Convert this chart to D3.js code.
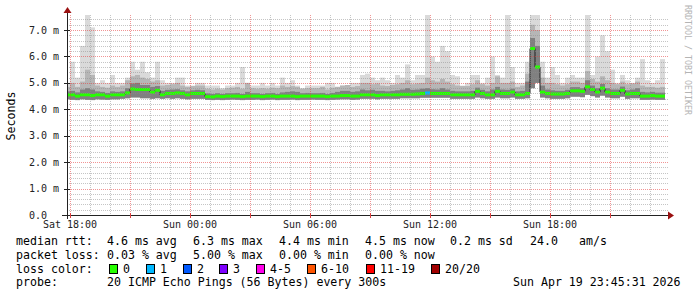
<!DOCTYPE html>
<html>
<head>
<meta charset="utf-8">
<script src="https://cdn.jsdelivr.net/npm/d3@7"></script>
<style>
  body { margin: 0; background: #fff; }
  svg text { font-family: "DejaVu Sans Mono", monospace; }
</style>
</head>
<body>
<svg id="chart" width="697" height="297"></svg>
<script>
// 15 minute bins, first one starts Sat 17:45
var binStart = new Date(2026, 3, 18, 17, 45);
var binMinutes = 15;

// median rtt per bin (ms)
var median = [
  4.55,4.55,4.50,4.55,4.55,4.52,4.55,4.55,4.50,4.55,
  4.55,4.55,4.62,4.77,4.75,4.75,4.75,4.65,4.72,4.55,
  4.60,4.60,4.62,4.60,4.55,4.60,4.60,4.60,4.48,4.47,
  4.50,4.48,4.50,4.50,4.50,4.48,4.50,4.50,4.50,4.48,
  4.50,4.50,4.48,4.50,4.50,4.50,4.48,4.50,4.50,4.50,
  4.50,4.50,4.48,4.50,4.50,4.52,4.52,4.50,4.50,4.55,
  4.55,4.55,4.52,4.55,4.55,4.55,4.55,4.57,4.57,4.57,
  4.58,4.60,4.62,4.60,4.60,4.60,4.60,4.55,4.55,4.55,
  4.55,4.55,4.68,4.60,4.55,4.55,4.68,4.60,4.60,4.65,
  4.55,4.55,4.60,6.30,5.60,4.65,4.60,4.58,4.58,4.58,
  4.60,4.70,4.70,4.68,4.85,4.75,4.65,4.80,4.65,4.60,
  4.60,4.72,4.58,4.60,4.60,4.50,4.50,4.52,4.50,4.50
];
// smoke: fastest ping
var smokeLow = [
  4.38,4.36,4.35,4.38,4.36,4.35,4.38,4.37,4.36,4.38,
  4.38,4.40,4.42,4.45,4.45,4.42,4.42,4.40,4.42,4.40,
  4.42,4.40,4.42,4.40,4.38,4.40,4.40,4.40,4.36,4.35,
  4.36,4.35,4.36,4.37,4.36,4.35,4.36,4.36,4.37,4.35,
  4.36,4.37,4.35,4.36,4.36,4.37,4.35,4.36,4.36,4.37,
  4.36,4.36,4.35,4.36,4.37,4.38,4.38,4.36,4.37,4.40,
  4.40,4.40,4.38,4.40,4.40,4.40,4.40,4.42,4.42,4.42,
  4.42,4.44,4.44,4.44,4.44,4.44,4.44,4.40,4.40,4.40,
  4.40,4.40,4.45,4.42,4.40,4.40,4.45,4.42,4.42,4.45,
  4.40,4.40,4.42,4.80,5.00,4.45,4.42,4.40,4.40,4.40,
  4.42,4.48,4.48,4.46,4.55,4.50,4.45,4.52,4.45,4.42,
  4.42,4.48,4.40,4.42,4.42,4.36,4.36,4.37,4.36,4.36
];
// smoke: dark band top
var smokeP75 = [
  4.68,4.70,4.64,4.75,4.80,4.75,4.68,4.66,4.62,4.68,
  4.66,4.68,4.80,4.98,5.00,4.92,4.92,4.85,4.88,4.70,
  4.74,4.75,4.76,4.72,4.68,4.72,4.74,4.72,4.60,4.58,
  4.61,4.58,4.61,4.61,4.62,4.58,4.66,4.61,4.61,4.58,
  4.61,4.62,4.58,4.64,4.66,4.68,4.66,4.61,4.62,4.61,
  4.61,4.62,4.58,4.62,4.66,4.70,4.70,4.66,4.68,4.75,
  4.72,4.74,4.70,4.70,4.68,4.70,4.72,4.75,4.80,4.74,
  4.75,4.78,4.80,4.76,4.75,4.80,4.75,4.70,4.68,4.68,
  4.68,4.70,4.82,4.74,4.68,4.75,4.85,4.75,4.74,4.78,
  4.68,4.70,5.05,6.70,6.40,4.90,4.75,4.72,4.70,4.70,
  4.74,4.84,4.84,4.80,5.10,4.90,4.80,4.96,4.80,4.75,
  4.75,4.86,4.72,4.75,4.80,4.66,4.64,4.66,4.63,4.63
];
// smoke: medium band top
var smokeP90 = [
  4.85,5.00,4.85,5.05,5.50,5.30,4.90,4.85,4.82,4.90,
  4.85,4.90,5.10,5.25,5.30,5.20,5.15,5.05,5.10,4.90,
  4.92,4.95,5.00,4.90,4.85,4.88,4.90,4.90,4.78,4.75,
  4.78,4.75,4.80,4.82,4.85,4.78,5.00,4.80,4.78,4.80,
  4.78,4.82,4.80,4.90,4.85,4.88,4.85,4.78,4.80,4.80,
  4.80,4.85,4.75,4.82,4.85,4.90,4.92,4.85,4.88,5.00,
  5.00,4.95,4.98,4.90,4.88,4.92,4.95,5.00,5.10,4.95,
  4.98,5.00,5.20,5.10,5.05,5.15,5.05,4.95,4.90,4.88,
  4.88,4.95,5.10,4.95,4.90,5.00,5.25,5.00,5.00,5.05,
  4.85,4.90,5.35,7.20,7.00,5.20,5.00,5.00,4.95,4.90,
  4.95,5.05,5.05,5.00,5.45,5.15,5.05,5.25,5.10,5.00,
  4.95,5.05,4.95,4.98,5.05,4.90,4.85,4.85,4.82,4.85
];
// smoke: slowest ping
var smokeHigh = [
  5.00,5.80,5.20,6.40,7.60,7.10,5.00,5.10,5.00,5.30,
  5.00,5.00,5.20,5.80,5.50,5.80,5.40,5.20,5.80,5.10,
  5.00,5.00,5.20,5.20,4.90,4.90,5.00,5.00,4.90,4.90,
  4.90,4.80,4.90,4.90,5.00,5.60,5.00,4.90,4.90,5.00,
  4.90,5.00,4.90,5.20,5.00,5.10,4.90,4.80,4.90,4.90,
  4.90,4.90,5.00,5.00,4.85,4.90,4.90,5.00,5.00,5.30,
  5.35,5.20,5.10,5.20,5.10,5.00,5.30,5.20,5.70,5.10,
  5.30,5.30,7.60,6.00,5.80,6.40,6.20,5.30,5.25,4.90,
  5.00,5.30,5.30,5.00,5.20,6.00,5.30,5.20,7.60,5.60,
  5.00,5.00,5.80,7.60,7.60,5.80,5.20,5.60,5.30,5.00,
  5.20,5.30,5.20,5.20,7.60,5.30,6.00,6.80,6.20,5.50,
  5.00,5.30,5.10,5.00,5.20,5.90,5.10,5.00,5.10,5.90
];
// bins where pings were lost: [bin, lost]
var lossEvents = [[72, 1]];

var yTicks = [0, 1, 2, 3, 4, 5, 6, 7];
var lossLabels = ["0", "1", "2", "3", "4-5", "6-10", "11-19", "20/20"];
var lossColors = ["#26ff00", "#00b8ff", "#0059ff", "#7e00ff", "#ff00ea", "#ff5500", "#ff0000", "#a10000"];
var lossUpper = [0, 1, 2, 3, 5, 10, 19, 20];

var svg = d3.select("#chart");
var plotL = 67, plotR = 667, plotT = 15, plotB = 215;

var x = d3.scaleTime()
  .domain([new Date(2026, 3, 18, 17, 51), new Date(2026, 3, 19, 23, 51)])
  .range([plotL, plotR]);
var y = d3.scaleLinear().domain([0, 7.57]).range([plotB, plotT]);

var bins = median.map(function(m, i) {
  var t0 = d3.timeMinute.offset(binStart, i * binMinutes);
  return {t0: t0, t1: d3.timeMinute.offset(t0, binMinutes), med: m,
    lo: smokeLow[i], p75: smokeP75[i], p90: smokeP90[i], hi: smokeHigh[i], lost: 0};
});
lossEvents.forEach(function(e) { bins[e[0]].lost = e[1]; });

svg.append("clipPath").attr("id", "plot")
  .append("rect").attr("x", plotL).attr("y", plotT)
  .attr("width", plotR - plotL).attr("height", plotB - plotT);

var g = svg.append("g").attr("clip-path", "url(#plot)");

// smoke, outer to inner
[["hi", "#dadada"], ["p90", "#b6b6b6"], ["p75", "#808080"]].forEach(function(s) {
  g.append("g").selectAll("rect").data(bins).enter().append("rect")
    .attr("x", function(d) { return x(d.t0); })
    .attr("width", function(d) { return x(d.t1) - x(d.t0); })
    .attr("y", function(d) { return y(d[s[0]]); })
    .attr("height", function(d) { return y(d.lo) - y(d[s[0]]); })
    .attr("fill", s[1]);
});

// grid
var grid = svg.append("g");
var minorY = d3.range(1, 38).map(function(k) { return k / 5; }).filter(function(v) { return Math.abs(v - Math.round(v)) > 0.01; });
grid.selectAll(".hm").data(minorY).enter().append("line")
  .attr("x1", plotL).attr("x2", plotR + 1)
  .attr("y1", function(d) { return Math.round(y(d)) + 0.5; })
  .attr("y2", function(d) { return Math.round(y(d)) + 0.5; })
  .attr("stroke", "rgba(140,140,140,0.5)").attr("stroke-dasharray", "1,1");
var hours = x.ticks(d3.timeHour.every(1)).filter(function(d) { return d.getHours() % 3; });
grid.selectAll(".vm").data(hours).enter().append("line")
  .attr("y1", plotT).attr("y2", plotB)
  .attr("x1", function(d) { return Math.round(x(d)) + 0.5; })
  .attr("x2", function(d) { return Math.round(x(d)) + 0.5; })
  .attr("stroke", "rgba(140,140,140,0.5)").attr("stroke-dasharray", "1,1");
grid.selectAll(".hM").data(yTicks.slice(1)).enter().append("line")
  .attr("x1", plotL).attr("x2", plotR + 1)
  .attr("y1", function(d) { return Math.round(y(d)) + 0.5; })
  .attr("y2", function(d) { return Math.round(y(d)) + 0.5; })
  .attr("stroke", "rgba(230,60,60,0.55)").attr("stroke-dasharray", "1,1");
var majors = x.ticks(d3.timeHour.every(3));
grid.selectAll(".vM").data(majors).enter().append("line")
  .attr("y1", plotT).attr("y2", plotB)
  .attr("x1", function(d) { return Math.round(x(d)) + 0.5; })
  .attr("x2", function(d) { return Math.round(x(d)) + 0.5; })
  .attr("stroke", "rgba(230,60,60,0.55)").attr("stroke-dasharray", "1,1");

// median: dark step line, then loss coloured bars
var stepPts = bins.map(function(d) { return [d.t0, d.med]; });
stepPts.push([bins[bins.length - 1].t1, bins[bins.length - 1].med]);
g.append("path").datum(stepPts)
  .attr("d", d3.line().curve(d3.curveStepAfter)
    .x(function(d) { return x(d[0]); }).y(function(d) { return y(d[1]); }))
  .attr("fill", "none").attr("stroke", "#202020").attr("stroke-width", 1);

function lossColor(n) {
  for (var k = 0; k < lossUpper.length; k++) if (n <= lossUpper[k]) return lossColors[k];
  return lossColors[lossColors.length - 1];
}
g.append("g").selectAll("rect").data(bins).enter().append("rect")
  .attr("x", function(d) { return x(d.t0); })
  .attr("width", function(d) { return x(d.t1) - x(d.t0); })
  .attr("y", function(d) { return y(d.med) - 1.5; })
  .attr("height", 3)
  .attr("fill", function(d) { return lossColor(d.lost); });

// axes
var axisCol = "#222";
svg.append("line").attr("x1", plotL - 5).attr("x2", plotR + 2)
  .attr("y1", plotB + 0.5).attr("y2", plotB + 0.5).attr("stroke", axisCol);
svg.append("line").attr("x1", plotL + 0.5).attr("x2", plotL + 0.5)
  .attr("y1", plotT - 3).attr("y2", plotB + 4).attr("stroke", axisCol);
svg.append("path").attr("d", "M668,211.5L674,215.5L668,219.5Z").attr("fill", "#9a1010");
svg.append("path").attr("d", "M63.5,13L67.5,7L71.5,13Z").attr("fill", "#9a1010");

svg.selectAll(".yt").data(yTicks).enter().append("line")
  .attr("x1", plotL - 3).attr("x2", plotL + 3)
  .attr("y1", function(d) { return Math.round(y(d)) + 0.5; })
  .attr("y2", function(d) { return Math.round(y(d)) + 0.5; })
  .attr("stroke", axisCol);
svg.selectAll(".xt").data(majors).enter().append("line")
  .attr("y1", plotB - 2).attr("y2", plotB + 3)
  .attr("x1", function(d) { return Math.round(x(d)) + 0.5; })
  .attr("x2", function(d) { return Math.round(x(d)) + 0.5; })
  .attr("stroke", "#e04040");

svg.selectAll(".yl").data(yTicks).enter().append("text")
  .attr("x", 29).attr("y", function(d) { return y(d) + 3.5; })
  .attr("font-size", 10).attr("fill", "#222")
  .text(function(d) { return d3.format(".1f")(d) + (d ? " m" : ""); });

var labelTimes = x.ticks(d3.timeHour.every(6));
svg.selectAll(".xl").data(labelTimes).enter().append("text")
  .attr("x", function(d) { return x(d); }).attr("y", 228)
  .attr("text-anchor", "middle").attr("font-size", 10).attr("fill", "#222")
  .text(d3.timeFormat("%a %H:%M"));

svg.append("text").attr("transform", "translate(15,116) rotate(-90)")
  .attr("text-anchor", "middle").attr("font-size", 11.6).text("Seconds");

svg.append("text").attr("transform", "translate(685,5) rotate(90)")
  .attr("font-size", 8.3).attr("fill", "#b4b4b4").text("RRDTOOL / TOBI OETIKER");

// legend
var fs = 11.6;
var rows = [
  [245, [[16, "median rtt:"], [107, "4.6 ms avg"], [193, "6.3 ms max"], [279, "4.4 ms min"], [365, "4.5 ms now"], [450, "0.2 ms sd"], [530, "24.0"], [579, "am/s"]]],
  [258.8, [[16, "packet loss:"], [107, "0.03 % avg"], [193, "5.00 % max"], [279, "0.00 % min"], [365, "0.00 % now"]]],
  [272.6, [[16, "loss color:"]]],
  [286.4, [[16, "probe:"], [107, "20 ICMP Echo Pings (56 Bytes) every 300s"], [513, "Sun Apr 19 23:45:31 2026"]]]
];
rows.forEach(function(r) {
  svg.append("g").selectAll("text").data(r[1]).enter().append("text")
    .attr("x", function(d) { return d[0]; }).attr("y", r[0])
    .attr("font-size", fs).attr("fill", "#000").attr("xml:space", "preserve")
    .text(function(d) { return d[1]; });
});
var boxX = [109, 146, 183, 219, 256, 307, 366, 431];
var lg = svg.append("g").selectAll("g").data(lossLabels).enter().append("g");
lg.append("rect")
  .attr("x", function(d, i) { return boxX[i] + 0.5; }).attr("y", 264.5)
  .attr("width", 8).attr("height", 9)
  .attr("fill", function(d, i) { return lossColors[i]; })
  .attr("stroke", "#000");
lg.append("text")
  .attr("x", function(d, i) { return boxX[i] + 14; }).attr("y", 272.6)
  .attr("font-size", fs).text(function(d) { return d; });
</script>
</body>
</html>
